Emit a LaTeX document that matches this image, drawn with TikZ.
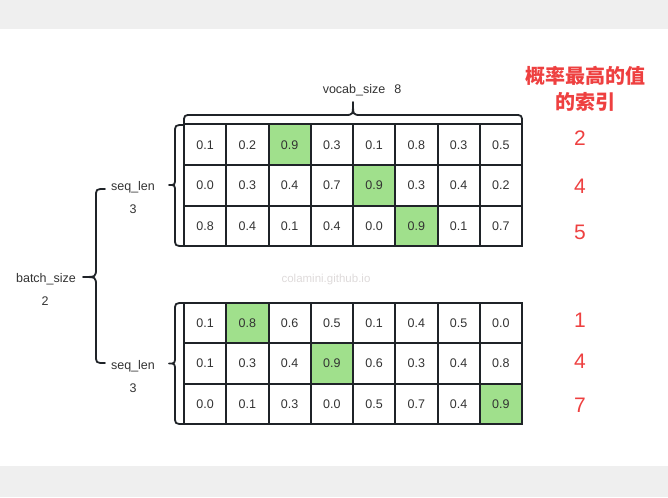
\documentclass[tikz,border=0pt]{standalone}
\usepackage{fontspec}
\setmainfont{Liberation Sans}
\newfontfamily\cjk{Noto Sans CJK SC}
\definecolor{stripgray}{HTML}{EFEFEF}
\definecolor{linedark}{HTML}{1F2328}
\definecolor{txtgray}{HTML}{333333}
\definecolor{cellgreen}{HTML}{A0E08C}
\definecolor{idxred}{HTML}{EE4040}
\definecolor{wmark}{HTML}{DEDADA}
\newcommand\mkrow[4]{% #1 name prefix, #2 y centre, #3 green column, #4 values
  \foreach \v [count=\c] in {#4} {
    \ifnum\c=#3\relax\def\fc{cellgreen}\else\def\fc{white}\fi
    \node[cellbox,fill=\fc] (#1-\c) at ({184+(\c-0.5)*42.25},#2) {\v};
  }
}
\begin{document}
\begin{tikzpicture}[x=1pt,y=-1pt,
  cellbox/.style={draw=linedark,line width=2pt,minimum width=42.25pt,minimum height=40.6pt,inner sep=0pt,text=txtgray,font=\fontsize{12.5}{14}\selectfont},
  bracepath/.style={draw=linedark,line width=1.8pt,line cap=round,line join=round},
  lbl/.style={text=txtgray,inner sep=0pt,font=\fontsize{12.5}{14}\selectfont},
  idx/.style={text=idxred,inner sep=0pt,font=\fontsize{21}{24}\selectfont}]
\useasboundingbox (0,0) rectangle (668,497);
\fill[stripgray] (0,0) rectangle (668,29.5);
\fill[stripgray] (0,466) rectangle (668,497);

% top batch
\mkrow{ta}{144.8}{3}{0.1,0.2,0.9,0.3,0.1,0.8,0.3,0.5}
\mkrow{tb}{185.4}{5}{0.0,0.3,0.4,0.7,0.9,0.3,0.4,0.2}
\mkrow{tc}{226.0}{6}{0.8,0.4,0.1,0.4,0.0,0.9,0.1,0.7}
% bottom batch
\mkrow{ba}{322.8}{2}{0.1,0.8,0.6,0.5,0.1,0.4,0.5,0.0}
\mkrow{bb}{363.4}{4}{0.1,0.3,0.4,0.9,0.6,0.3,0.4,0.8}
\mkrow{bc}{404.0}{8}{0.0,0.1,0.3,0.0,0.5,0.7,0.4,0.9}

% braces
\path[bracepath] (184,123) .. controls (184,115) .. (192,115) -- (345,115)
  .. controls (353,115) .. (353,102) .. controls (353,115) .. (361,115)
  -- (514,115) .. controls (522,115) .. (522,123);
\path[bracepath] (184,125) .. controls (175,125) .. (175,133) -- (175,178)
  .. controls (175,185) .. (169,185) .. controls (175,185) .. (175,192)
  -- (175,238) .. controls (175,246) .. (184,246);
\path[bracepath] (184,303) .. controls (175,303) .. (175,311) -- (175,356)
  .. controls (175,363.5) .. (169,363.5) .. controls (175,363.5) .. (175,371)
  -- (175,416) .. controls (175,424) .. (184,424);
\path[bracepath] (105,189) .. controls (96,189) .. (96,197) -- (96,268)
  .. controls (96,277) .. (83,277) .. controls (96,277) .. (96,286)
  -- (96,355) .. controls (96,363) .. (105,363);

% labels
\node[lbl] (vocab) at (362,90) {vocab\_size\hspace{9pt}8};
\node[lbl] (seq1) at (133,187) {seq\_len};
\node[lbl] (seq1n) at (133,209.5) {3};
\node[lbl] (seq2) at (133,366) {seq\_len};
\node[lbl] (seq2n) at (133,388.5) {3};
\node[lbl] (batch) at (46,279) {batch\_size};
\node[lbl] (batchn) at (45,301) {2};

% header and indices
\node[text=idxred,align=center,inner sep=0pt,font=\cjk\bfseries\fontsize{20}{26}\selectfont] (head) at (585,89) {概率最高的值\\的索引};
\node[idx] (i1) at (580,138) {2};
\node[idx] (i2) at (580,186) {4};
\node[idx] (i3) at (580,232) {5};
\node[idx] (i4) at (580,320) {1};
\node[idx] (i5) at (580,361) {4};
\node[idx] (i6) at (580,405) {7};

% watermark
\node[text=wmark,inner sep=0pt,font=\fontsize{11.5}{13}\selectfont] (wm) at (326,280) {colamini.github.io};
\end{tikzpicture}
\end{document}
